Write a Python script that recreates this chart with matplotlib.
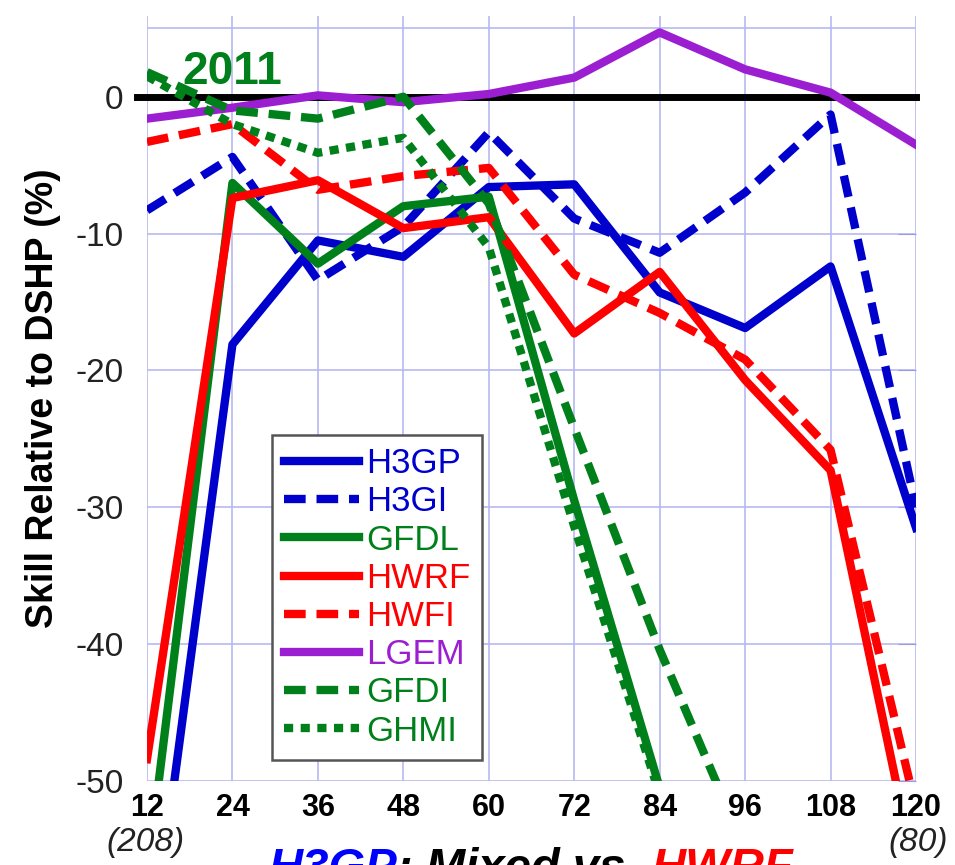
import numpy as np
import matplotlib
matplotlib.use('Agg')
import matplotlib.pyplot as plt

plt.rcParams['font.family'] = ['Liberation Sans', 'DejaVu Sans']
plt.rcParams['axes.unicode_minus'] = False

# forecast hour
hours = [12, 24, 36, 48, 60, 72, 84, 96, 108, 120]
hour_labels = ['12', '24', '36', '48', '60', '72', '84', '96', '108', '120']
cases_first = '(208)'
cases_last = '(80)'

# skill relative to DSHP (%)
h3gp = [-65, -18.1, -10.5, -11.7, -6.6, -6.4, -14.3, -16.9, -12.4, -31.5]
h3gi = [-8.3, -4.4, -13.4, -9.5, -2.6, -8.9, -11.4, -7.0, -1.3, -30.0]
gfdl = [-57, -6.3, -12.2, -8.0, -7.3, -29.5, -50.5, np.nan, np.nan, np.nan]
hwrf = [-48.4, -7.4, -6.1, -9.6, -8.8, -17.3, -12.8, -20.7, -27.3, -57]
hwfi = [-3.3, -2.0, -6.8, -5.8, -5.2, -13.0, -15.8, -19.2, -25.8, -52]
lgem = [-1.6, -0.8, 0.1, -0.4, 0.2, 1.4, 4.7, 2.0, 0.3, -3.5]
gfdi = [1.8, -1.0, -1.6, 0.0, -7.8, -24.2, -40.4, -55, np.nan, np.nan]
ghmi = [1.5, -2.0, -4.1, -3.0, -11.0, -31.4, -51, np.nan, np.nan, np.nan]

BLUE = '#0000cc'
GREEN = '#00801a'
RED = '#ff0000'
PURPLE = '#9b1fd1'
GRID = '#b8b8f2'

dash = (0, (2.6, 1.3))
dot = (0, (1.1, 0.9))

series = [
    ('H3GP', h3gp, BLUE, '-'),
    ('H3GI', h3gi, BLUE, dash),
    ('GFDL', gfdl, GREEN, '-'),
    ('HWRF', hwrf, RED, '-'),
    ('HWFI', hwfi, RED, dash),
    ('LGEM', lgem, PURPLE, '-'),
    ('GFDI', gfdi, GREEN, dash),
    ('GHMI', ghmi, GREEN, dot),
]

fig = plt.figure(figsize=(9.55, 8.65), dpi=100)
ax = fig.add_axes([147 / 955, 1 - 781 / 865, (916 - 147) / 955, (781 - 16) / 865])

ax.set_xlim(12, 120)
ax.set_ylim(-50, 5.9)
ax.set_xticks(hours)
ax.set_xticklabels(hour_labels, fontsize=22, fontweight='bold')
ax.set_yticks([-50, -40, -30, -20, -10, 0])
ax.tick_params(axis='y', labelsize=24, labelcolor='#222222', left=False, right=True,
               direction='in', length=13, color='#9a9ae8', pad=17)
ax.tick_params(axis='x', length=0, pad=9)
ax.grid(True, color=GRID, lw=1.2)
ax.axhline(5, color=GRID, lw=1.2, zorder=0.5)
for s in ax.spines.values():
    s.set_visible(False)
ax.set_ylabel('Skill Relative to DSHP (%)', fontsize=27, fontweight='bold', labelpad=10)

ax.axhline(0, xmin=-0.013, xmax=1, color='black', lw=5, zorder=2, clip_on=False)

for name, vals, col, ls in series:
    ax.plot(hours, vals, color=col, ls=ls, lw=6, label=name, zorder=3)

leg = ax.legend(loc='upper left', bbox_to_anchor=(272 / 955, 1 - 435 / 865),
                bbox_transform=fig.transFigure, borderaxespad=0, fontsize=25,
                handlelength=2.15, handletextpad=0.2, labelspacing=0.15,
                borderpad=0.35, fancybox=False, framealpha=1)
leg.get_frame().set_edgecolor('#555555')
leg.get_frame().set_linewidth(1.8)
for txt, ln in zip(leg.get_texts(), leg.get_lines()):
    txt.set_color(ln.get_color())
leg.set_zorder(5)

ax.text(16.9, 0.9, '2011', color=GREEN, fontsize=33, fontweight='bold', zorder=6)

fig.text(146 / 955, 1 - 843 / 865, cases_first, fontsize=24, style='italic',
         ha='center', va='center', color='#222222')
fig.text(918 / 955, 1 - 843 / 865, cases_last, fontsize=24, style='italic',
         ha='center', va='center', color='#222222')

# bottom caption, cut off by the figure edge as in the original
fig.canvas.draw()
r = fig.canvas.get_renderer()
x0 = 268 / 955
base = 1 - 881 / 865
for part, col in [('H3GP', '#0000ff'), (': Mixed vs. ', 'black'), ('HWRF', '#ff0000')]:
    t = fig.text(x0, base, part, color=col, fontsize=34, fontweight='bold',
                 style='italic', va='baseline', ha='left')
    bb = t.get_window_extent(renderer=r)
    x0 = x0 + bb.width / fig.bbox.width

fig.savefig('out.png', dpi=100)
